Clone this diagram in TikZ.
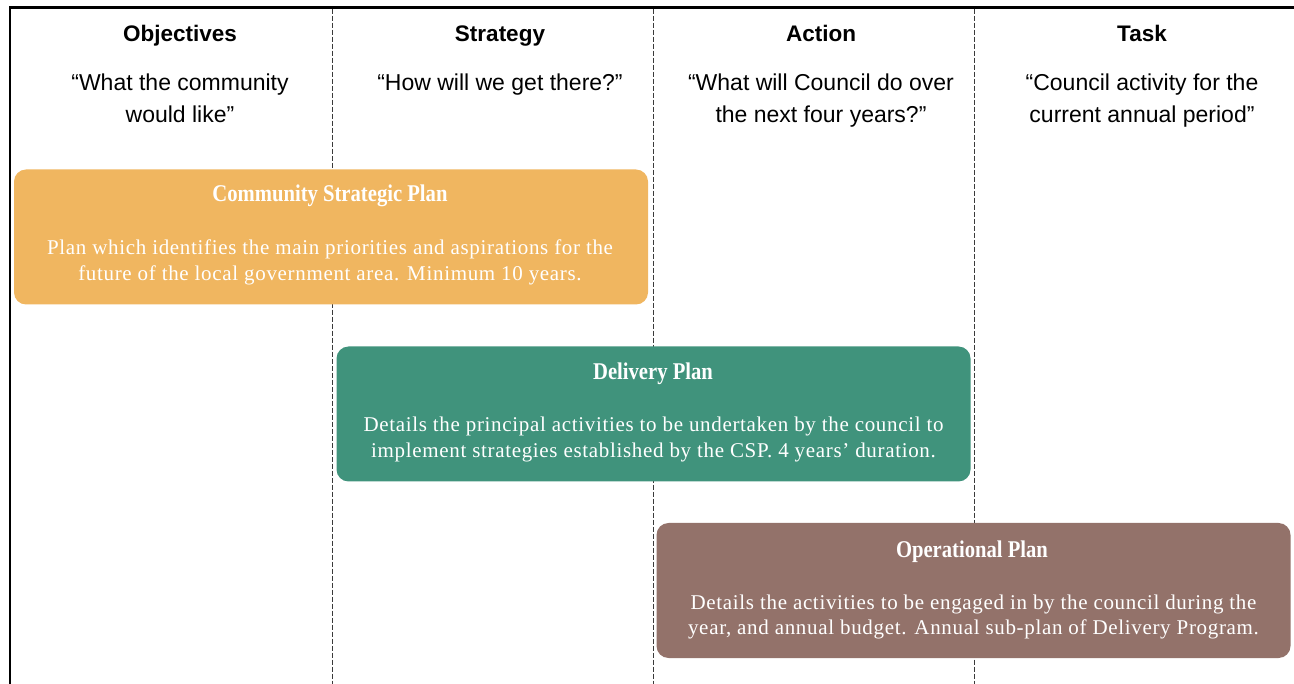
\documentclass[tikz,border=0pt]{standalone}
\usepackage{fontspec}
\setmainfont{Liberation Serif}
\newfontfamily\hdfont{Liberation Sans}
\newfontfamily\bodyfont[LetterSpace=3.2]{Liberation Serif}
\newfontfamily\titlefont[FakeStretch=0.86]{Liberation Serif}
\definecolor{cspc}{HTML}{F0B660}
\definecolor{dpc}{HTML}{40937C}
\definecolor{opc}{HTML}{93726A}
\definecolor{gridc}{HTML}{3A3A3A}
\tikzset{
  planbox/.style={rounded corners=12pt, minimum width=634pt, minimum height=135pt, inner sep=0pt, draw=none},
  head/.style={anchor=base, inner sep=0pt, font=\hdfont\bfseries\fontsize{22.5}{27}\selectfont},
  sub/.style={anchor=base, inner sep=0pt, align=center, font=\hdfont\fontsize{23}{32}\selectfont},
  ptitle/.style={anchor=base, inner sep=0pt, text=white, font=\titlefont\bfseries\fontsize{24}{28}\selectfont},
  pbody/.style={anchor=base, inner sep=0pt, text=white, align=center, font=\bodyfont\fontsize{21}{25.5}\selectfont},
  framel/.style={line width=2.2pt, line join=miter},
  coldiv/.style={draw=gridc, line width=0.9pt, dash pattern=on 5pt off 2pt},
}
\begin{document}
\begin{tikzpicture}[x=1pt,y=-1pt]
\useasboundingbox (0,0) rectangle (1294,684);
% frame
\coordinate (bl) at (10,684);
\coordinate (tl) at (10,7.5);
\coordinate (tr) at (1294,7.5);
% column dividers
\foreach \cx [count=\i] in {332,653,974}{
  \coordinate (d\i t) at (\cx,8.6);
  \coordinate (d\i b) at (\cx,684);
  \draw[coldiv] (d\i t) -- (d\i b);
}
\draw[framel] (bl) -- (tl) -- (tr);
% headings
\node[head] (obj) at (180,42) {Objectives};
\node[head] (str) at (500,42) {Strategy};
\node[head] (act) at (821,42) {Action};
\node[head] (task) at (1142,42) {Task};
% two-line nodes are anchored at their last baseline
\node[sub] (objq) at (180,123) {“What the community\\would like”};
\node[sub] (strq) at (500,91) {“How will we get there?”};
\node[sub] (actq) at (821,123) {“What will Council do over\\the next four years?”};
\node[sub] (taskq) at (1142,123) {“Council activity for the\\current annual period”};
% plan boxes
\node[planbox, fill=cspc] (csp) at (331,237) {};
\node[planbox, fill=dpc] (dp) at (653.5,414) {};
\node[planbox, fill=opc] (op) at (973.5,590.5) {};
\node[ptitle] (csptitle) at (330,202) {Community Strategic Plan};
\node[pbody] (cspbody) at (330,280.5) {Plan which identifies the main priorities and aspirations for the\\future of the local government area. Minimum 10 years.};
\node[ptitle] (dptitle) at (653,380) {Delivery Plan};
\node[pbody] (dpbody) at (653.5,457.5) {Details the principal activities to be undertaken by the council to\\implement strategies established by the CSP. 4 years’ duration.};
\node[ptitle] (optitle) at (972,557) {Operational Plan};
\node[pbody] (opbody) at (973.5,634.5) {Details the activities to be engaged in by the council during the\\year, and annual budget. Annual sub-plan of Delivery Program.};
\end{tikzpicture}
\end{document}
